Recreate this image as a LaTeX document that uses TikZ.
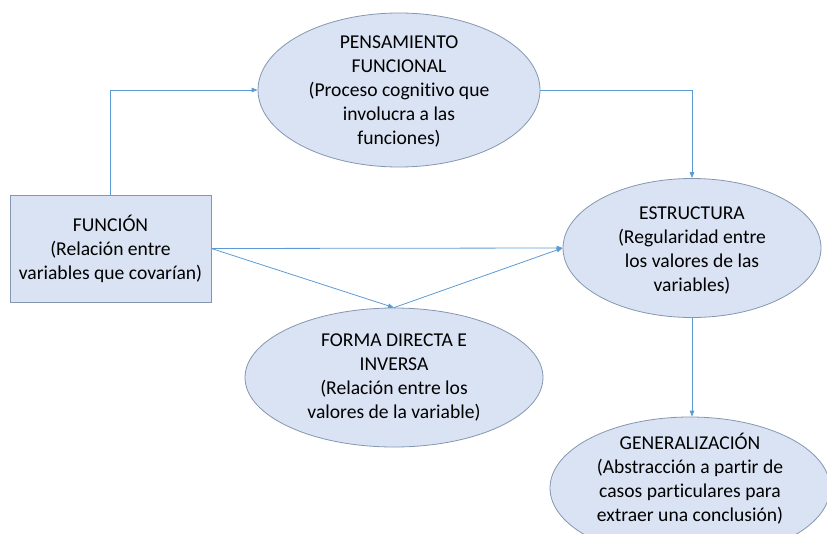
\documentclass[tikz,border=0pt]{standalone}
\usepackage{fontspec}
\setmainfont{Carlito}[Ligatures=NoCommon]
\usetikzlibrary{shapes.geometric,arrows.meta}
\definecolor{fondo}{HTML}{DAE3F3}
\definecolor{borde}{HTML}{8497B0}
\definecolor{flecha}{HTML}{5B9BD5}
\tikzset{
  caja/.style={draw=borde, fill=fondo, line width=0.8pt},
  elipse/.style={ellipse, draw=borde, fill=fondo, line width=0.8pt},
  texto/.style={align=center, font=\fontsize{19.6}{24}\selectfont},
  flecha/.style={draw=flecha, line width=0.8pt, -{Triangle[length=6pt,width=4.5pt]}}
}
\begin{document}
\begin{tikzpicture}[x=1pt,y=-1pt]
        \useasboundingbox (0,0) rectangle (827,533);
            % Nodos
            \node[caja, minimum width=201pt, minimum height=107pt] (fun) at (110.5,248.5) {};
            \node[texto] (fun-t) at (fun) {FUNCIÓN\\(Relación entre\\variables que covarían)};
            \node[elipse, minimum width=282pt, minimum height=154pt] (pens) at (399,90) {};
            \node[texto] (pens-t) at ([yshift=-1pt]pens) {PENSAMIENTO\\FUNCIONAL\\(Proceso cognitivo que\\involucra a las\\funciones)};
            \node[elipse, minimum width=258pt, minimum height=139pt] (estr) at (692,248) {};
            \node[texto] (estr-t) at ([yshift=-2pt]estr) {ESTRUCTURA\\(Regularidad entre\\los valores de las\\variables)};
            \node[elipse, minimum width=298pt, minimum height=139pt] (forma) at (394,377.5) {};
            \node[texto] (forma-t) at (forma) {FORMA DIRECTA E\\INVERSA\\(Relación entre los\\valores de la variable)};
            \node[elipse, minimum width=280pt, minimum height=142pt] (gen) at (690,488) {};
            \node[texto] (gen-t) at ([yshift=9pt]gen) {GENERALIZACIÓN\\(Abstracción a partir de\\casos particulares para\\extraer una conclusión)};

            % Conectores
            \draw[flecha] (fun.north) |- (pens.west);
            \draw[flecha] (pens.east) -| (estr.north);
            \draw[flecha] (fun.east) -- (estr.west);
            \draw[flecha] (fun.east) -- (forma.north);
            \draw[flecha] (forma.north) -- (estr.west);
            \draw[flecha] (estr.south) -- (estr.south |- gen.north);
        \end{tikzpicture}
\end{document}
